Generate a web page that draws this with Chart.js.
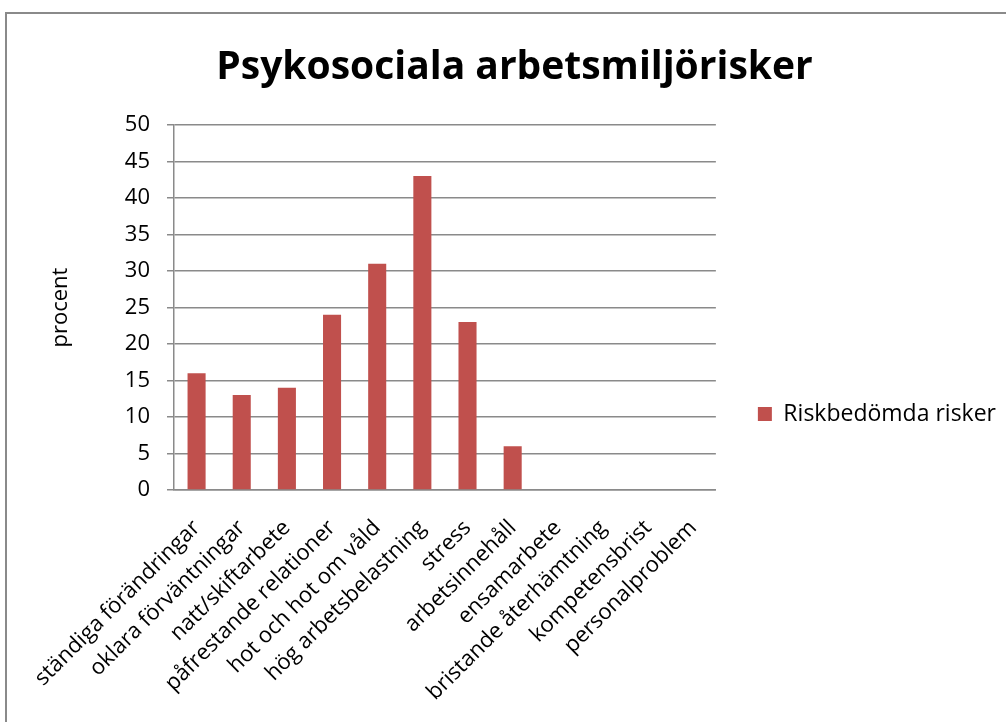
<!DOCTYPE html>
<html lang="sv">
<head>
    <meta charset="UTF-8">
    <title>Psykosociala arbetsmiljörisker</title>
    <script src="https://cdn.jsdelivr.net/npm/chart.js"></script>
    <style>
        html, body {
            margin: 0;
            padding: 0;
            background: white;
            overflow: hidden;
        }
        .frame {
            position: absolute;
            left: 5px;
            top: 12px;
            width: 1100px;
            height: 800px;
            border: 2px solid #8a8a8a;
        }
        .wrap {
            position: absolute;
            left: 0;
            top: 0;
            width: 1006px;
            height: 722px;
        }
    </style>
</head>
<body>
    <div class="frame"></div>
    <div class="wrap">
        <canvas id="chart" width="1006" height="722"></canvas>
    </div>
    <script>
        // kategorier och värden (procent)
        var categories = [
            'ständiga förändringar',
            'oklara förväntningar',
            'natt/skiftarbete',
            'påfrestande relationer',
            'hot och hot om våld',
            'hög arbetsbelastning',
            'stress',
            'arbetsinnehåll',
            'ensamarbete',
            'bristande återhämtning',
            'kompetensbrist',
            'personalproblem'
        ];
        var riskValues = [16, 13, 14, 24, 31, 43, 23, 6, 0, 0, 0, 0];
        var seriesName = 'Riskbedömda risker';

        var font = 'Open Sans';

        new Chart(document.getElementById('chart'), {
            type: 'bar',
            data: {
                labels: categories,
                datasets: [{
                    label: seriesName,
                    data: riskValues,
                    backgroundColor: '#C0504D',
                    barPercentage: 0.4,
                    categoryPercentage: 1.0
                }]
            },
            options: {
                responsive: false,
                animation: false,
                layout: { padding: { left: 23, right: 0, top: 0, bottom: 0 } },
                plugins: {
                    title: {
                        display: true,
                        text: 'Psykosociala arbetsmiljörisker',
                        color: '#000',
                        font: { family: font, size: 39, weight: 'bold' },
                        padding: { top: 44.6, bottom: 33.6 }
                    },
                    legend: {
                        position: 'right',
                        maxWidth: 300,
                        // tom titel som skjuter ned förklaringen
                        title: {
                            display: true,
                            text: ' ',
                            font: { size: 10 },
                            padding: { top: 47, bottom: 47 }
                        },
                        labels: {
                            color: '#000',
                            font: { family: font, size: 23 },
                            boxWidth: 14,
                            boxHeight: 14,
                            padding: 42
                        }
                    },
                    tooltip: { enabled: false }
                },
                scales: {
                    x: {
                        grid: { display: false, drawTicks: false },
                        border: { color: '#8a8a8a', width: 1.5 },
                        ticks: {
                            color: '#000',
                            font: { family: font, size: 22 },
                            maxRotation: 45,
                            minRotation: 45,
                            autoSkip: false,
                            padding: 25
                        },
                        afterFit: function(scale) { scale.height = 232; }
                    },
                    y: {
                        min: 0,
                        max: 50,
                        ticks: {
                            stepSize: 5,
                            color: '#000',
                            font: { family: font, size: 22 },
                            padding: 17
                        },
                        grid: { color: '#8a8a8a', lineWidth: 1.5, tickLength: 7 },
                        border: { color: '#8a8a8a', width: 1.5 },
                        title: {
                            display: true,
                            text: 'procent',
                            color: '#000',
                            font: { family: font, size: 22 },
                            padding: { top: 25, bottom: 0 }
                        },
                        afterFit: function(scale) { scale.width = 151; }
                    }
                }
            }
        });
    </script>
</body>
</html>
